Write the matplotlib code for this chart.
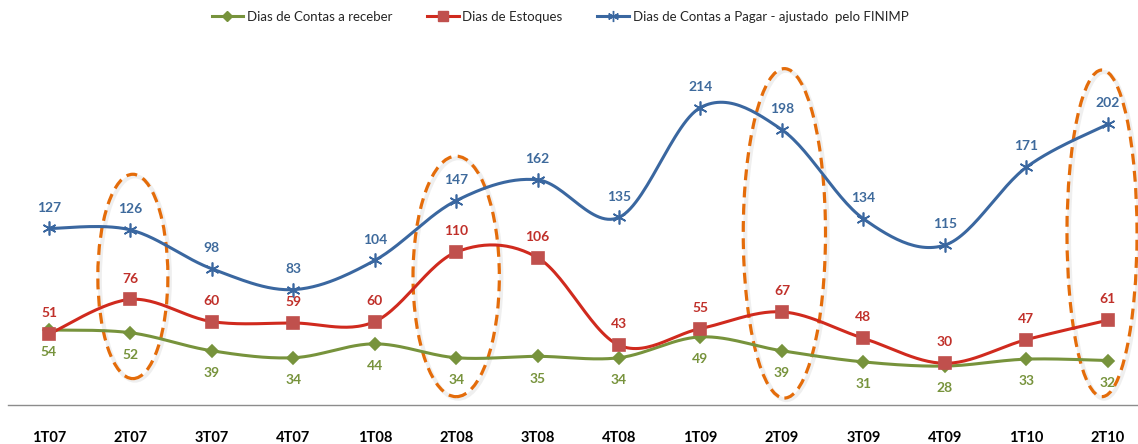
import numpy as np
import matplotlib
matplotlib.use("Agg")
import matplotlib.pyplot as plt
from matplotlib.patches import Ellipse
from matplotlib.lines import Line2D
import matplotlib.transforms as mtransforms

plt.rcParams['font.family'] = ['Lato', 'DejaVu Sans']

# Dados
trimestres = ['1T07', '2T07', '3T07', '4T07', '1T08', '2T08', '3T08',
              '4T08', '1T09', '2T09', '3T09', '4T09', '1T10', '2T10']
contas_receber = [54, 52, 39, 34, 44, 34, 35, 34, 49, 39, 31, 28, 33, 32]
estoques = [51, 76, 60, 59, 60, 110, 106, 43, 55, 67, 48, 30, 47, 61]
contas_pagar = [127, 126, 98, 83, 104, 147, 162, 135, 214, 198, 134, 115, 171, 202]

# Destaques (indice do trimestre, largura, base, topo)
destaques_idx = [1, 5, 9, 13]
destaques_dx = [0.03, 0.0, 0.03, -0.07]
destaques_larg = [0.86, 1.06, 1.01, 0.86]
destaques_base = [19, 6, 5, 6]
destaques_topo = [166, 179, 242, 241]


def suavizar(ys, n=30):
    # curva suavizada tipo Excel (Catmull-Rom / Bezier)
    xs = np.arange(len(ys), dtype=float)
    ys = np.asarray(ys, dtype=float)
    pts = np.column_stack([xs, ys])
    ext = np.vstack([pts[0], pts, pts[-1]])
    out = []
    t = np.linspace(0, 1, n)[:, None]
    for i in range(len(pts) - 1):
        p0, p1, p2, p3 = ext[i], ext[i + 1], ext[i + 2], ext[i + 3]
        b1 = p1 + (p2 - p0) / 6
        b2 = p2 - (p3 - p1) / 6
        seg = ((1 - t) ** 3) * p1 + 3 * ((1 - t) ** 2) * t * b1 + 3 * (1 - t) * t ** 2 * b2 + t ** 3 * p2
        out.append(seg if i == 0 else seg[1:])
    c = np.vstack(out)
    return c[:, 0], c[:, 1]


fig = plt.figure(figsize=(11.38, 4.44), dpi=100)
ax = fig.add_axes([8 / 1138, 39 / 444, 1 - 8 / 1138, 361.4 / 444])

x = np.arange(len(trimestres))

series = [
    (contas_receber, '#77933C', '#77933C', 'D', 6.5, 'Dias de Contas a receber', -16),
    (estoques, '#D02A1E', '#C0504D', 's', 9, 'Dias de Estoques', 15),
    (contas_pagar, '#3A67A0', '#3A67A0', (6, 2, 0), 10, 'Dias de Contas a Pagar - ajustado  pelo FINIMP', 15),
]
cores_rotulo = ['#77933C', '#C0302A', '#3E6A9C']

handles = []
for (vals, cor, cor_m, mk, ms, nome, off), cor_r in zip(series, cores_rotulo):
    sx, sy = suavizar(vals)
    ax.plot(sx, sy, color=cor, linewidth=2.2, solid_capstyle='round', zorder=3)
    ax.plot(x, vals, linestyle='none', marker=mk, markersize=ms, color=cor_m,
            markeredgecolor=cor_m, markeredgewidth=1.2, zorder=4)
    for xi, v in zip(x, vals):
        ax.annotate(str(v), (xi, v), xytext=(0, off), textcoords='offset points',
                    ha='center', va='center', fontsize=10, fontweight='bold',
                    color=cor_r, zorder=5)
    handles.append(Line2D([0], [0], color=cor, linewidth=2.2, marker=mk,
                          markersize=ms * 0.8, markerfacecolor=cor_m,
                          markeredgecolor=cor_m, label=nome))

# Elipses tracejadas com sombra
sombra = mtransforms.offset_copy(ax.transData, fig=fig, x=2, y=-2, units='dots')
for i, dx, w, b, t in zip(destaques_idx, destaques_dx, destaques_larg,
                          destaques_base, destaques_topo):
    cx = x[i] + dx
    cy = (b + t) / 2
    h = t - b
    ax.add_patch(Ellipse((cx, cy), w, h, transform=sombra, fill=False,
                         edgecolor='#999999', linewidth=3, alpha=0.15,
                         clip_on=False, zorder=1))
    ax.add_patch(Ellipse((cx, cy), w, h, fill=False, edgecolor='#E46C0A',
                         linewidth=2.3, linestyle=(0, (3.4, 2.0)),
                         clip_on=False, zorder=2))

ax.set_xlim(-0.503, 13.372)
ax.set_ylim(0, 260)
ax.set_xticks(x)
ax.set_xticklabels(trimestres, fontsize=10.5, fontweight='bold', color='black')
ax.tick_params(axis='x', length=0, pad=18.5)
ax.set_yticks([])
for s in ['top', 'right', 'left']:
    ax.spines[s].set_visible(False)
ax.spines['bottom'].set_color('#8C8C8C')
ax.spines['bottom'].set_linewidth(1.0)

fig.legend(handles=handles, loc='center', bbox_to_anchor=(560 / 1138, 1 - 17 / 444),
           ncol=3, frameon=False, fontsize=9.5, handlelength=2.4,
           handletextpad=0.3, columnspacing=2.6, labelcolor='#262626')

fig.savefig('out.png', dpi=100)
